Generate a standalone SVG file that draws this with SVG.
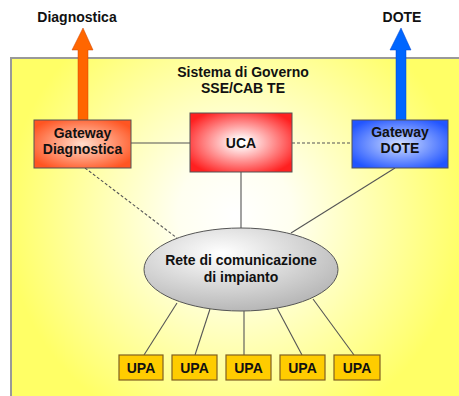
<svg xmlns="http://www.w3.org/2000/svg" width="459" height="396" viewBox="0 0 459 396">
<defs>
<radialGradient id="bg" cx="235" cy="215" r="230" gradientUnits="userSpaceOnUse">
<stop offset="0" stop-color="#FFFFFF"/>
<stop offset="0.25" stop-color="#FFFFF0"/>
<stop offset="1" stop-color="#FFFF66"/>
</radialGradient>
<radialGradient id="gOr" cx="0.5" cy="0.5" r="0.6">
<stop offset="0" stop-color="#FFDDCC"/>
<stop offset="1" stop-color="#FF5522"/>
</radialGradient>
<radialGradient id="gRed" cx="0.5" cy="0.5" r="0.6">
<stop offset="0.08" stop-color="#FFFFFF"/>
<stop offset="1" stop-color="#FF2020"/>
</radialGradient>
<radialGradient id="gBlue" cx="0.5" cy="0.5" r="0.6">
<stop offset="0" stop-color="#D0DEFF"/>
<stop offset="1" stop-color="#2255FF"/>
</radialGradient>
<radialGradient id="gGray" cx="0.4" cy="0.3" r="0.7">
<stop offset="0" stop-color="#FFFFFF"/>
<stop offset="1" stop-color="#B8B8B8"/>
</radialGradient>
<style>
text{font-family:"Liberation Sans",Arial,sans-serif;font-weight:bold;fill:#111;text-anchor:middle}
.lbl{font-size:14px}
.box{stroke:#555;stroke-width:1}
.upa{fill:#FFCC00;stroke:#806020;stroke-width:1.2}
.ln{stroke:#555;stroke-width:1.1;fill:none}
.dash{stroke-dasharray:3,2}
</style>
</defs>
<rect x="11" y="58" width="460" height="350" fill="url(#bg)" stroke="#999" stroke-width="2"/>
<g id="arrows">
<polygon points="78,120 78,50 72,50 83,28 93,50 88,50 88,120" fill="#FF6600" stroke="#CC4400" stroke-width="0.5"/>
<polygon points="396,120 396,50 390,50 401,28 411,50 406,50 406,120" fill="#0066FF" stroke="#0044CC" stroke-width="0.5"/>
</g>
<text x="77" y="22" class="lbl">Diagnostica</text>
<text x="402" y="22" class="lbl">DOTE</text>
<text x="243" y="77" class="lbl">Sistema di Governo</text>
<text x="243" y="93" class="lbl">SSE/CAB TE</text>
<g id="connectors">
<line x1="131" y1="143" x2="190" y2="143" class="ln"/>
<line x1="292" y1="143" x2="352" y2="143" class="ln dash"/>
<line x1="85" y1="168" x2="177" y2="238" class="ln dash"/>
<line x1="241" y1="172" x2="241" y2="229" class="ln"/>
<line x1="395" y1="168" x2="291" y2="233" class="ln"/>
<line x1="177" y1="303" x2="144" y2="355" class="ln"/>
<line x1="210" y1="309" x2="195" y2="355" class="ln"/>
<line x1="244" y1="311" x2="244" y2="355" class="ln"/>
<line x1="277" y1="308" x2="302" y2="355" class="ln"/>
<line x1="313" y1="299" x2="354" y2="355" class="ln"/>
</g>
<g id="gw-diag">
<rect x="34" y="120" width="97" height="48" fill="url(#gOr)" class="box"/>
<text x="82.5" y="138" class="lbl">Gateway</text>
<text x="82.5" y="154" class="lbl">Diagnostica</text>
</g>
<g id="uca">
<rect x="190" y="113" width="102" height="59" fill="url(#gRed)" class="box"/>
<text x="241" y="148" class="lbl">UCA</text>
</g>
<g id="gw-dote">
<rect x="352" y="120" width="96" height="48" fill="url(#gBlue)" class="box"/>
<text x="400" y="137" class="lbl">Gateway</text>
<text x="400" y="153" class="lbl">DOTE</text>
</g>
<g id="rete">
<ellipse cx="241" cy="269.5" rx="97" ry="41.5" fill="url(#gGray)" stroke="#555" stroke-width="1"/>
<text x="241" y="265" class="lbl">Rete di comunicazione</text>
<text x="241" y="282" class="lbl">di impianto</text>
</g>
<g id="upa1"><rect x="119" y="355" width="44" height="25" class="upa"/><text x="141" y="372.5" class="lbl">UPA</text></g>
<g id="upa2"><rect x="172" y="355" width="45" height="25" class="upa"/><text x="194.5" y="372.5" class="lbl">UPA</text></g>
<g id="upa3"><rect x="226" y="355" width="45" height="25" class="upa"/><text x="248.5" y="372.5" class="lbl">UPA</text></g>
<g id="upa4"><rect x="280" y="355" width="45" height="25" class="upa"/><text x="302.5" y="372.5" class="lbl">UPA</text></g>
<g id="upa5"><rect x="334" y="355" width="46" height="25" class="upa"/><text x="357" y="372.5" class="lbl">UPA</text></g>
</svg>
